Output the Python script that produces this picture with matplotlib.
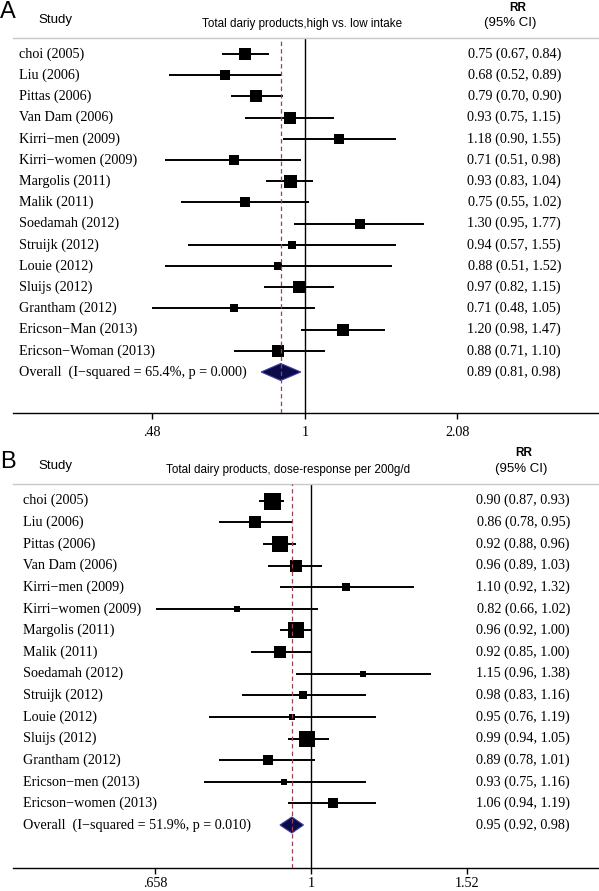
import numpy as np
import matplotlib
matplotlib.use('Agg')
import matplotlib.pyplot as plt
from matplotlib import transforms
from matplotlib.patches import Polygon

# ---------------- data ----------------
studies_a = ["choi (2005)", "Liu (2006)", "Pittas (2006)", "Van Dam (2006)",
             "Kirri\u2212men (2009)", "Kirri\u2212women (2009)", "Margolis (2011)",
             "Malik (2011)", "Soedamah (2012)", "Struijk (2012)", "Louie (2012)",
             "Sluijs (2012)", "Grantham (2012)", "Ericson\u2212Man (2013)",
             "Ericson\u2212Woman (2013)"]
rr_a = [0.75, 0.68, 0.79, 0.93, 1.18, 0.71, 0.93, 0.75, 1.30, 0.94, 0.88, 0.97, 0.71, 1.20, 0.88]
lo_a = [0.67, 0.52, 0.70, 0.75, 0.90, 0.51, 0.83, 0.55, 0.95, 0.57, 0.51, 0.82, 0.48, 0.98, 0.71]
hi_a = [0.84, 0.89, 0.90, 1.15, 1.55, 0.98, 1.04, 1.02, 1.77, 1.55, 1.52, 1.15, 1.05, 1.47, 1.10]
weight_a = [7.6, 6.3, 9.1, 9.1, 6.3, 5.1, 10.6, 5.1, 6.3, 3.1, 3.1, 9.1, 4.0, 7.6, 7.6]
overall_a = [0.89, 0.81, 0.98]
overall_label_a = "Overall  (I\u2212squared = 65.4%, p = 0.000)"
title_a = "Total dariy products,high vs. low intake"
ticks_a = [0.48, 1, 2.08]
ticklabels_a = [".48", "1", "2.08"]

studies_b = ["choi (2005)", "Liu (2006)", "Pittas (2006)", "Van Dam (2006)",
             "Kirri\u2212men (2009)", "Kirri\u2212women (2009)", "Margolis (2011)",
             "Malik (2011)", "Soedamah (2012)", "Struijk (2012)", "Louie (2012)",
             "Sluijs (2012)", "Grantham (2012)", "Ericson\u2212men (2013)",
             "Ericson\u2212women (2013)"]
rr_b = [0.90, 0.86, 0.92, 0.96, 1.10, 0.82, 0.96, 0.92, 1.15, 0.98, 0.95, 0.99, 0.89, 0.93, 1.06]
lo_b = [0.87, 0.78, 0.88, 0.89, 0.92, 0.66, 0.92, 0.85, 0.96, 0.83, 0.76, 0.94, 0.78, 0.75, 0.94]
hi_b = [0.93, 0.95, 0.96, 1.03, 1.32, 1.02, 1.00, 1.00, 1.38, 1.16, 1.19, 1.05, 1.01, 1.16, 1.19]
weight_b = [14.2, 7.1, 12.6, 8.3, 3.1, 2.4, 12.6, 8.3, 2.4, 3.1, 2.4, 11.1, 4.9, 2.4, 4.9]
overall_b = [0.95, 0.92, 0.98]
overall_label_b = "Overall  (I\u2212squared = 51.9%, p = 0.010)"
title_b = "Total dairy products, dose-response per 200g/d"
ticks_b = [0.658, 1, 1.52]
ticklabels_b = [".658", "1", "1.52"]

# ---------------- layout ----------------
W, H = 599, 891
fig = plt.figure(figsize=(W / 100, H / 100), dpi=100)

SERIF = ["Liberation Serif", "DejaVu Serif"]
SANS = ["Liberation Sans", "DejaVu Sans"]


def fx(px):
    return px / W


def fy(py):
    return 1 - py / H


def panel(letter, letter_y, studies, rr, lo, hi, wt, overall, overall_label,
          title, ticks, ticklabels, top, bottom, row0, rowN, x1_px, scale,
          label_x, value_x, max_box, diam_h, hdr, tick_pad):
    left, right = 13, 599
    ax = fig.add_axes([fx(left), fy(bottom), (right - left) / W, (bottom - top) / H])
    n = len(studies)
    sp = (rowN - row0) / n
    ax.set_xscale('log')
    ax.set_xlim(np.exp((left - x1_px) / scale), np.exp((right - x1_px) / scale))
    ax.set_ylim(n + (bottom - rowN) / sp, -(row0 - top) / sp)

    wmax = max(wt)
    for i in range(n):
        ax.plot([lo[i], hi[i]], [i, i], color='black', lw=1.4, solid_capstyle='butt', zorder=3)
        side_px = max_box * np.sqrt(wt[i] / wmax)
        ax.plot(rr[i], i, marker='s', ms=side_px * 0.72, color='black', mec='black',
                mew=0, zorder=4)

    es, elo, ehi = overall
    h = diam_h / 2 / sp
    poly = Polygon([(elo, n), (es, n - h), (ehi, n), (es, n + h)], closed=True,
                   facecolor='#0b0b4a', edgecolor='#3a3aa0', lw=0.8, zorder=4)
    ax.add_patch(poly)

    ax.axvline(1, color='black', lw=1.0, zorder=2)
    ax.axvline(es, color='#a0404f', lw=0.9, ls=(0, (3.5, 2.5)), zorder=5)

    for s in ['left', 'right']:
        ax.spines[s].set_visible(False)
    ax.spines['top'].set_color('#c8c8c8')
    ax.spines['top'].set_linewidth(1.0)
    ax.spines['bottom'].set_color('black')
    ax.spines['bottom'].set_linewidth(1.0)
    ax.set_yticks([])
    ax.set_xticks(ticks)
    ax.set_xticklabels(ticklabels, fontfamily=SERIF, fontsize=10.2)
    ax.minorticks_off()
    ax.tick_params(axis='x', direction='out', length=4.5, width=1.0, pad=tick_pad)

    trans = transforms.blended_transform_factory(fig.transFigure, ax.transData)
    for i in range(n):
        ax.text(fx(label_x), i, studies[i], transform=trans, ha='left', va='center',
                fontfamily=SERIF, fontsize=10.2)
        ax.text(fx(value_x), i, f"{rr[i]:.2f} ({lo[i]:.2f}, {hi[i]:.2f})", transform=trans,
                ha='right', va='center', fontfamily=SERIF, fontsize=10.2)
    ax.text(fx(label_x), n, overall_label, transform=trans, ha='left', va='center',
            fontfamily=SERIF, fontsize=10.2)
    ax.text(fx(value_x), n, f"{es:.2f} ({elo:.2f}, {ehi:.2f})", transform=trans,
            ha='right', va='center', fontfamily=SERIF, fontsize=10.2)

    # headers
    fig.text(fx(0), fy(letter_y), letter, ha='left', va='center', fontfamily=SANS,
             fontsize=17)
    fig.text(fx(38), fy(hdr['study']), "Study", ha='left', va='center', fontfamily=SANS,
             fontsize=9.5)
    fig.text(fx(hdr['title_x']), fy(hdr['title_y']), title, ha='center', va='center',
             fontfamily=SANS, fontsize=8.4)
    fig.text(fx(hdr['rr_x']), fy(hdr['rr_y']), "RR", ha='center', va='center',
             fontfamily=SANS, fontsize=8.5, fontweight='bold')
    fig.text(fx(hdr['ci_x']), fy(hdr['ci_y']), "(95% CI)", ha='center', va='center',
             fontfamily=SANS, fontsize=9.5)
    return ax


panel("A", 12, studies_a, rr_a, lo_a, hi_a, weight_a, overall_a, overall_label_a,
      title_a, ticks_a, ticklabels_a, top=38, bottom=413, row0=54, rowN=372,
      x1_px=305, scale=208, label_x=19, value_x=561, max_box=13, diam_h=17,
      hdr=dict(study=20, title_x=302, title_y=24, rr_x=518, rr_y=8, ci_x=510, ci_y=23),
      tick_pad=5)

panel("B", 462, studies_b, rr_b, lo_b, hi_b, weight_b, overall_b, overall_label_b,
      title_b, ticks_b, ticklabels_b, top=484, bottom=868, row0=500.7, rowN=825,
      x1_px=311, scale=372, label_x=23, value_x=570, max_box=17, diam_h=16,
      hdr=dict(study=466, title_x=288, title_y=470, rr_x=524, rr_y=453, ci_x=521, ci_y=469),
      tick_pad=2)

fig.savefig("out.png", dpi=100)
